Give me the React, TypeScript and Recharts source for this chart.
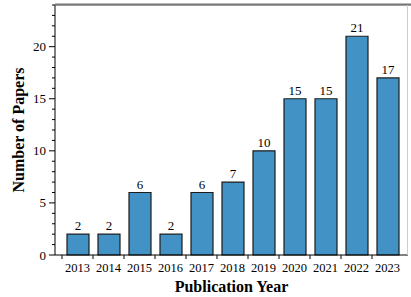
import React from "react";
import { BarChart, Bar, XAxis, YAxis, LabelList } from "recharts";

const years = ["2013", "2014", "2015", "2016", "2017", "2018", "2019", "2020", "2021", "2022", "2023"];
const papers = [2, 2, 6, 2, 6, 7, 10, 15, 15, 21, 17];
const yTicks = Array.from({ length: 25 }, (_, i) => i);
const yMajor = [0, 5, 10, 15, 20];
const yTop = 24;

const data = years.map((y, i) => ({ year: y, papers: papers[i] }));

const W = 411;
const H = 297;
const M = { top: 5, right: 3, bottom: 0, left: 0 };
const Y_W = 55;
const X_H = 42;
const PAD_L = 7;
const PAD_R = 5;
const plotW = W - M.left - M.right - Y_W;
const plotH = H - M.top - M.bottom - X_H;
const bandW = (plotW - PAD_L - PAD_R) / years.length;

const FONT = "Liberation Serif, Times New Roman, serif";

const XTick = (props: any) => {
  const { x, y, payload } = props;
  const tx = x - bandW / 2;
  return (
    <g>
      <line x1={tx} y1={y} x2={tx} y2={y + 4} stroke="#000" strokeWidth={1} />
      <text x={x} y={y + 17} textAnchor="middle" fontFamily={FONT} fontSize={12.5} fill="#000">
        {payload.value}
      </text>
    </g>
  );
};

const YTick = (props: any) => {
  const { x, y, payload } = props;
  const major = yMajor.includes(payload.value);
  const isTop = payload.value === yTop;
  return (
    <g>
      {isTop && (
        <g>
          <rect x={x} y={y - 1.5} width={plotW + 3} height={2.2} fill="#777777" />
          <rect x={x + plotW - 1} y={y} width={1} height={plotH} fill="#cccccc" />
        </g>
      )}
      <line x1={x - (major ? 6 : 3)} y1={y} x2={x} y2={y} stroke="#000" strokeWidth={1} />
      {major && (
        <text x={x - 9} y={y + 4.5} textAnchor="end" fontFamily={FONT} fontSize={13} fill="#000">
          {payload.value}
        </text>
      )}
    </g>
  );
};

const YLabel = (props: any) => {
  const vb = props.viewBox || {};
  const cx = (vb.x ?? 0) + 18;
  const cy = (vb.y ?? 0) + (vb.height ?? 0) / 2;
  return (
    <text
      x={cx}
      y={cy}
      transform={`rotate(-90, ${cx}, ${cy})`}
      textAnchor="middle"
      dominantBaseline="central"
      fontFamily={FONT}
      fontSize={16}
      fontWeight="bold"
      fill="#000"
    >
      Number of Papers
    </text>
  );
};

export default function App() {
  return (
    <div style={{ position: "absolute", left: 0, top: 0, width: W, height: H, background: "#fff" }}>
      <BarChart width={W} height={H} data={data} margin={M}>
        <XAxis
          dataKey="year"
          height={X_H}
          padding={{ left: PAD_L, right: PAD_R }}
          axisLine={{ stroke: "#000", strokeWidth: 1 }}
          tickLine={false}
          tickSize={0}
          tickMargin={0}
          interval={0}
          tick={<XTick />}
          label={{
            value: "Publication Year",
            position: "insideBottom",
            offset: 5,
            style: { fontFamily: FONT, fontSize: 16, fontWeight: "bold", fill: "#000" },
          }}
        />
        <YAxis
          width={Y_W}
          domain={[0, yTop]}
          ticks={yTicks}
          interval={0}
          axisLine={{ stroke: "#000", strokeWidth: 1 }}
          tickLine={false}
          tickSize={0}
          tickMargin={0}
          tick={<YTick />}
          label={<YLabel />}
        />
        <Bar
          dataKey="papers"
          fill="#4292c6"
          stroke="#1c1c1c"
          strokeWidth={1.2}
          barSize={22}
          isAnimationActive={false}
        >
          <LabelList
            dataKey="papers"
            position="top"
            offset={4}
            style={{ fontFamily: FONT, fontSize: 13, fill: "#000" }}
          />
        </Bar>
      </BarChart>
    </div>
  );
}
